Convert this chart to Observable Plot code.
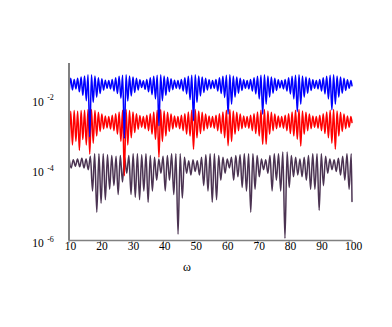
<!DOCTYPE html>
<html><head><meta charset="utf-8">
<script src="https://cdn.jsdelivr.net/npm/d3@7"></script>
<script src="https://cdn.jsdelivr.net/npm/@observablehq/plot@0.6"></script>
<style>body{margin:0;background:#fff;} svg{display:block}</style>
</head><body><div id="chart"></div>
<script>
// tick values / labels
const xTicks = [10, 20, 30, 40, 50, 60, 70, 80, 90, 100];
const yTicks = [1e-6, 1e-4, 1e-2];
const yExponents = ["-6", "-4", "-2"];
const xLabel = "ω";

// sampling of the ω axis for the blue & red series (start, spacing), last sample at 100
const omegaStartBR = 10, omegaStepBR = 0.55;
// sampling of the ω axis for the dark series
const omegaStartD = 10, omegaStepD = 0.68;

// log10 of the values
const blueLog = [
-1.86,-1.42,-1.75,-1.45,-1.72,-1.42,-1.8,-1.38,-1.9,-1.35,
-2.05,-1.32,-3.07,-1.32,-2.1,-1.35,-1.95,-1.4,-1.85,-1.43,
-1.75,-1.47,-1.7,-1.48,-1.72,-1.45,-1.78,-1.4,-1.85,-1.36,
-1.98,-1.33,-3.11,-1.32,-2.06,-1.35,-1.92,-1.38,-1.82,-1.42,
-1.75,-1.46,-1.68,-1.49,-1.73,-1.45,-1.8,-1.4,-1.88,-1.36,
-2.0,-1.33,-2.76,-1.32,-2.05,-1.35,-1.9,-1.39,-1.8,-1.43,
-1.74,-1.47,-1.7,-1.48,-1.72,-1.45,-1.78,-1.4,-1.86,-1.36,
-2.02,-1.33,-2.62,-1.32,-2.1,-1.35,-1.92,-1.38,-1.82,-1.42,
-1.75,-1.46,-1.71,-1.48,-1.7,-1.45,-1.78,-1.4,-1.85,-1.36,
-1.96,-1.33,-2.43,-1.32,-2.15,-1.35,-1.95,-1.38,-1.84,-1.42,
-1.76,-1.46,-1.7,-1.48,-1.72,-1.45,-1.78,-1.4,-1.86,-1.36,
-2.0,-1.33,-2.43,-1.32,-2.15,-1.35,-1.95,-1.38,-1.84,-1.42,
-1.76,-1.46,-1.69,-1.48,-1.72,-1.45,-1.78,-1.4,-1.86,-1.36,
-2.0,-1.33,-2.36,-1.32,-2.15,-1.35,-1.95,-1.38,-1.84,-1.42,
-1.76,-1.46,-1.7,-1.48,-1.72,-1.45,-1.78,-1.4,-1.86,-1.36,
-2.0,-1.33,-2.31,-1.32,-2.15,-1.35,-1.95,-1.38,-1.84,-1.42,
-1.76,-1.46,-1.7,-1.48,-1.63];

const redLog = [
-3.65,-2.35,-3.3,-2.33,-3.2,-2.35,-3.45,-2.33,-3.15,-2.32,
-3.3,-2.3,-3.56,-2.3,-3.25,-2.33,-3.05,-2.38,-2.92,-2.43,
-2.85,-2.48,-2.82,-2.5,-2.85,-2.46,-2.9,-2.42,-3.0,-2.37,
-3.2,-2.32,-4.17,-2.3,-3.3,-2.33,-3.1,-2.37,-2.95,-2.42,
-2.86,-2.47,-2.8,-2.5,-2.84,-2.46,-2.9,-2.42,-3.0,-2.37,
-3.15,-2.32,-3.65,-2.3,-3.2,-2.34,-3.05,-2.38,-2.92,-2.43,
-2.85,-2.48,-2.8,-2.5,-2.84,-2.46,-2.9,-2.42,-3.0,-2.37,
-3.05,-2.32,-3.42,-2.3,-3.1,-2.34,-2.98,-2.38,-2.9,-2.43,
-2.84,-2.48,-2.8,-2.5,-2.83,-2.46,-2.9,-2.42,-2.98,-2.37,
-3.1,-2.32,-3.32,-2.3,-3.2,-2.34,-3.0,-2.38,-2.9,-2.43,
-2.84,-2.48,-2.8,-2.5,-2.83,-2.46,-2.9,-2.42,-2.98,-2.37,
-3.05,-2.32,-3.28,-2.3,-3.28,-2.34,-3.0,-2.38,-2.9,-2.43,
-2.84,-2.48,-2.8,-2.5,-2.83,-2.46,-2.9,-2.42,-2.98,-2.37,
-3.05,-2.32,-3.14,-2.3,-3.33,-2.34,-3.0,-2.38,-2.9,-2.43,
-2.84,-2.48,-2.8,-2.5,-2.83,-2.46,-2.9,-2.42,-2.98,-2.37,
-3.1,-2.32,-3.25,-2.3,-3.42,-2.34,-3.05,-2.38,-2.92,-2.43,
-2.84,-2.48,-2.8,-2.5,-2.67];

const darkLog = [
-3.65,-3.95,-3.72,-3.9,-3.7,-3.92,-3.68,-3.95,-3.7,-4.0,
-3.62,-4.6,-3.55,-5.2,-3.55,-4.95,-3.55,-4.85,-3.58,-4.55,
-3.6,-4.45,-3.62,-4.7,-3.6,-4.35,-3.65,-4.1,-3.6,-4.7,
-3.55,-4.78,-3.55,-4.85,-3.58,-4.6,-3.55,-4.92,-3.6,-4.6,
-3.65,-4.3,-3.7,-4.1,-3.62,-4.6,-3.6,-4.3,-3.55,-4.7,
-3.55,-5.82,-3.55,-4.8,-3.65,-4.1,-3.75,-4.15,-3.72,-4.05,
-3.75,-4.15,-3.65,-4.45,-3.58,-4.6,-3.55,-4.92,-3.55,-4.85,
-3.6,-4.3,-3.65,-4.1,-3.7,-3.95,-3.65,-4.3,-3.6,-4.2,
-3.58,-4.5,-3.55,-4.6,-3.55,-5.2,-3.55,-4.55,-3.6,-4.2,
-3.7,-4.0,-3.72,-4.1,-3.6,-4.6,-3.55,-4.3,-3.55,-4.6,
-3.5,-5.94,-3.5,-4.5,-3.6,-4.2,-3.65,-4.15,-3.7,-4.2,
-3.65,-4.3,-3.6,-4.55,-3.55,-4.55,-3.55,-5.15,-3.55,-4.45,
-3.62,-4.1,-3.7,-4.0,-3.72,-4.05,-3.68,-4.15,-3.62,-4.3,
-3.55,-4.55,-3.55,-4.9];

function toRows(logs, start, step) {
  return logs.map((v, i) => ({
    w: i === logs.length - 1 ? 100 : start + step * i,
    v: Math.pow(10, v)
  }));
}
const blueRows = toRows(blueLog, omegaStartBR, omegaStepBR);
const redRows = toRows(redLog, omegaStartBR, omegaStepBR);
const darkRows = toRows(darkLog, omegaStartD, omegaStepD);

const expOf = new Map(yTicks.map((t, i) => [t, yExponents[i]]));

const chart = Plot.plot({
  width: 392, height: 327,
  marginLeft: 68.5, marginRight: 40.5, marginTop: 63, marginBottom: 87,
  style: {fontFamily: "'Liberation Serif','DejaVu Serif',serif", background: "white", color: "black"},
  x: {domain: [10, 100], label: null},
  y: {type: "log", domain: [1e-6, 1e-1], label: null},
  marks: [
    Plot.line(darkRows, {x: "w", y: "v", stroke: "#4b3352", strokeWidth: 1.5, curve: "monotone-x"}),
    Plot.line(redRows, {x: "w", y: "v", stroke: "#ff0000", strokeWidth: 1.5, curve: "monotone-x"}),
    Plot.line(blueRows, {x: "w", y: "v", stroke: "#0000ff", strokeWidth: 1.5, curve: "monotone-x"}),
    Plot.ruleX([10], {stroke: "#808080", strokeWidth: 2}),
    Plot.ruleY([1e-6], {stroke: "#808080", strokeWidth: 1.5}),
    Plot.axisX(xTicks, {tickSize: 3, tickFormat: () => "", stroke: "#808080"}),
    Plot.axisX(xTicks, {tickSize: 0, tickPadding: 1.3, fontSize: 11.5, dx: 1.5}),
    Plot.axisY(yTicks, {tickSize: 0, tickPadding: 25.2, tickFormat: () => "10", fontSize: 11.5, dy: 3}),
    Plot.axisY(yTicks, {tickSize: 0, tickPadding: 15.2, tickFormat: d => expOf.get(d), fontSize: 8, dy: -1.5}),
    Plot.text([xLabel], {text: d => d, frameAnchor: "bottom", dx: -23.5, dy: 30.7, fontSize: 12})
  ]
});
document.getElementById("chart").appendChild(chart);
</script>
</body></html>
